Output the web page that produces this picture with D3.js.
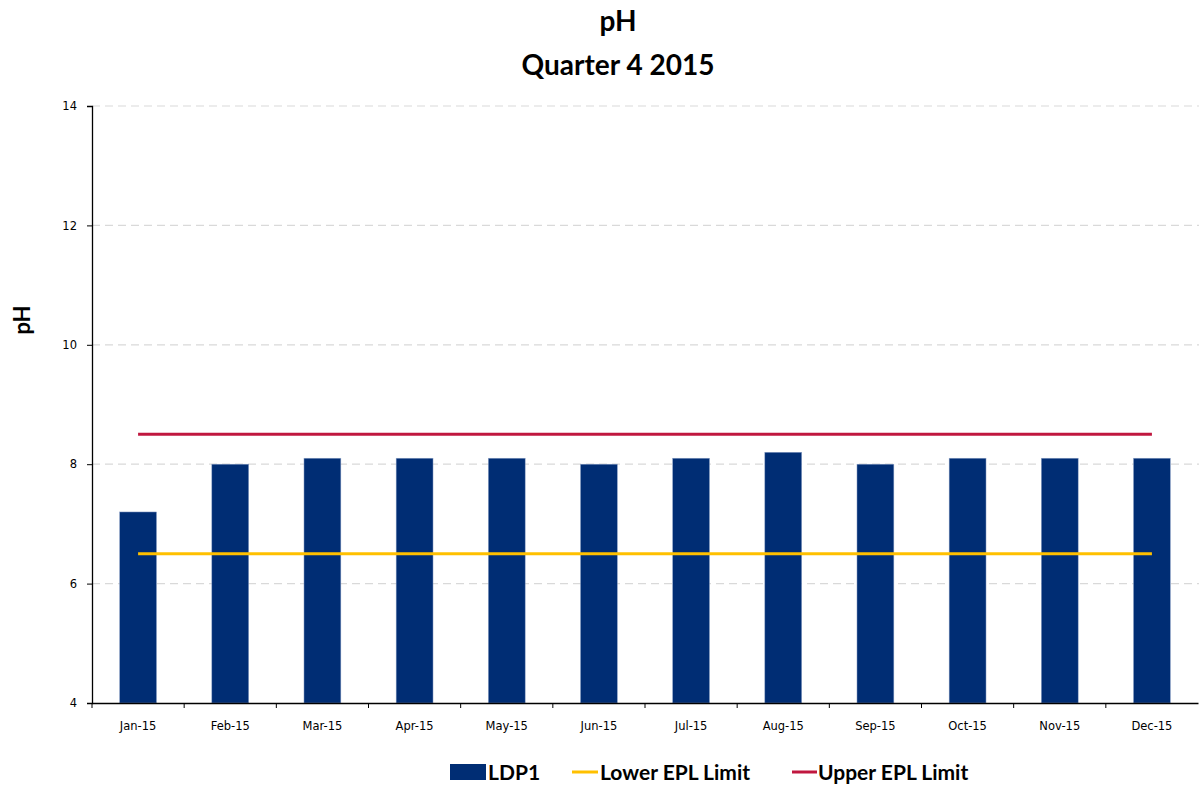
<!DOCTYPE html>
<html><head><meta charset="utf-8">
<script src="https://cdn.jsdelivr.net/npm/d3@7"></script>
<style>body{margin:0;background:#fff}svg{display:block}</style>
</head><body>
<svg id="c" width="1199" height="785"></svg>
<script>
const categories = ["Jan-15","Feb-15","Mar-15","Apr-15","May-15","Jun-15","Jul-15","Aug-15","Sep-15","Oct-15","Nov-15","Dec-15"];
const ldp1 = [7.2,8.0,8.1,8.1,8.1,8.0,8.1,8.2,8.0,8.1,8.1,8.1];
const lowerLimit = [6.5,6.5,6.5,6.5,6.5,6.5,6.5,6.5,6.5,6.5,6.5,6.5];
const upperLimit = [8.5,8.5,8.5,8.5,8.5,8.5,8.5,8.5,8.5,8.5,8.5,8.5];
const yTicks = [4,6,8,10,12,14];
const titleLines = ["pH","Quarter 4 2015"];
const yTitle = "pH";
const legendItems = ["LDP1","Lower EPL Limit","Upper EPL Limit"];

const svg = d3.select("#c");
const L = 92, R = 1198, T = 106, B = 703;
const x = d3.scaleBand().domain(categories).range([L, R]).paddingInner(0.6).paddingOuter(0.3);
const xb = d3.scaleBand().domain(categories).range([L, R]);
const y = d3.scaleLinear().domain([4,14]).range([B, T]);
const barColor = "#002D74", lowColor = "#FFC000", upColor = "#C0173F";

// gridlines
svg.append("g").selectAll("line").data(yTicks.filter(d=>d>4)).join("line")
  .attr("x1", L).attr("x2", 1199).attr("y1", d=>y(d)).attr("y2", d=>y(d))
  .attr("stroke", "#d9d9d9").attr("stroke-width", 1.2).attr("stroke-dasharray", "8,5");

// bars
svg.append("g").selectAll("rect").data(ldp1).join("rect")
  .attr("x", (d,i)=>x(categories[i])).attr("width", x.bandwidth())
  .attr("y", d=>y(d)).attr("height", d=>y(4)-y(d))
  .attr("fill", barColor).attr("stroke", "#8fa3c8").attr("stroke-width", 0.5);

// limit lines
const cx = c => xb(c) + xb.bandwidth()/2;
const lineGen = d3.line().x((d,i)=>cx(categories[i])).y(d=>y(d));
svg.append("path").datum(lowerLimit).attr("d", lineGen).attr("fill","none").attr("stroke", lowColor).attr("stroke-width", 3);
svg.append("path").datum(upperLimit).attr("d", lineGen).attr("fill","none").attr("stroke", upColor).attr("stroke-width", 3);

// y axis
const yAxis = svg.append("g").attr("transform", `translate(${L},0)`)
  .call(d3.axisLeft(y).tickValues(yTicks).tickSize(5).tickPadding(10));
yAxis.select(".domain").attr("stroke","#000").attr("stroke-width",1.3);
yAxis.selectAll(".tick line").attr("stroke","#000");
yAxis.selectAll("text").attr("font-family","DejaVu Sans").attr("font-size","11.5px").attr("fill","#000");

// x axis
const xAxis = svg.append("g").attr("transform", `translate(0,${B})`)
  .call(d3.axisBottom(xb).tickSize(0).tickPadding(19));
xAxis.select(".domain").attr("stroke","#000").attr("stroke-width",1.3);
xAxis.selectAll("text").attr("font-family","DejaVu Sans").attr("font-size","11.5px").attr("fill","#000");
svg.append("g").selectAll("line").data(categories.slice(1)).join("line")
  .attr("x1", d=>xb(d)).attr("x2", d=>xb(d)).attr("y1", B).attr("y2", B+5).attr("stroke","#000");
svg.append("line").attr("x1",L).attr("x2",L).attr("y1",B).attr("y2",B+5).attr("stroke","#000");

// titles
svg.selectAll("text.title").data(titleLines).join("text").attr("class","title")
  .attr("x", 618).attr("y", (d,i)=>31 + i*44).attr("text-anchor","middle")
  .attr("font-family","Lato").attr("font-weight","bold").attr("font-size","28px").text(d=>d);

svg.append("text").attr("transform","translate(30,320) rotate(-90)").attr("text-anchor","middle")
  .attr("font-family","Lato").attr("font-weight","bold").attr("font-size","22px").text(yTitle);

// legend
const lg = svg.append("g").attr("font-family","Lato").attr("font-weight","bold").attr("font-size","21px");
lg.append("rect").attr("x",450).attr("y",764).attr("width",36).attr("height",16).attr("fill",barColor);
lg.append("text").attr("x",488).attr("y",780).text(legendItems[0]);
lg.append("line").attr("x1",572).attr("x2",598).attr("y1",772).attr("y2",772).attr("stroke",lowColor).attr("stroke-width",3);
lg.append("text").attr("x",600).attr("y",780).text(legendItems[1]);
lg.append("line").attr("x1",792).attr("x2",817).attr("y1",772).attr("y2",772).attr("stroke",upColor).attr("stroke-width",3);
lg.append("text").attr("x",818).attr("y",780).text(legendItems[2]);
</script>
</body></html>
